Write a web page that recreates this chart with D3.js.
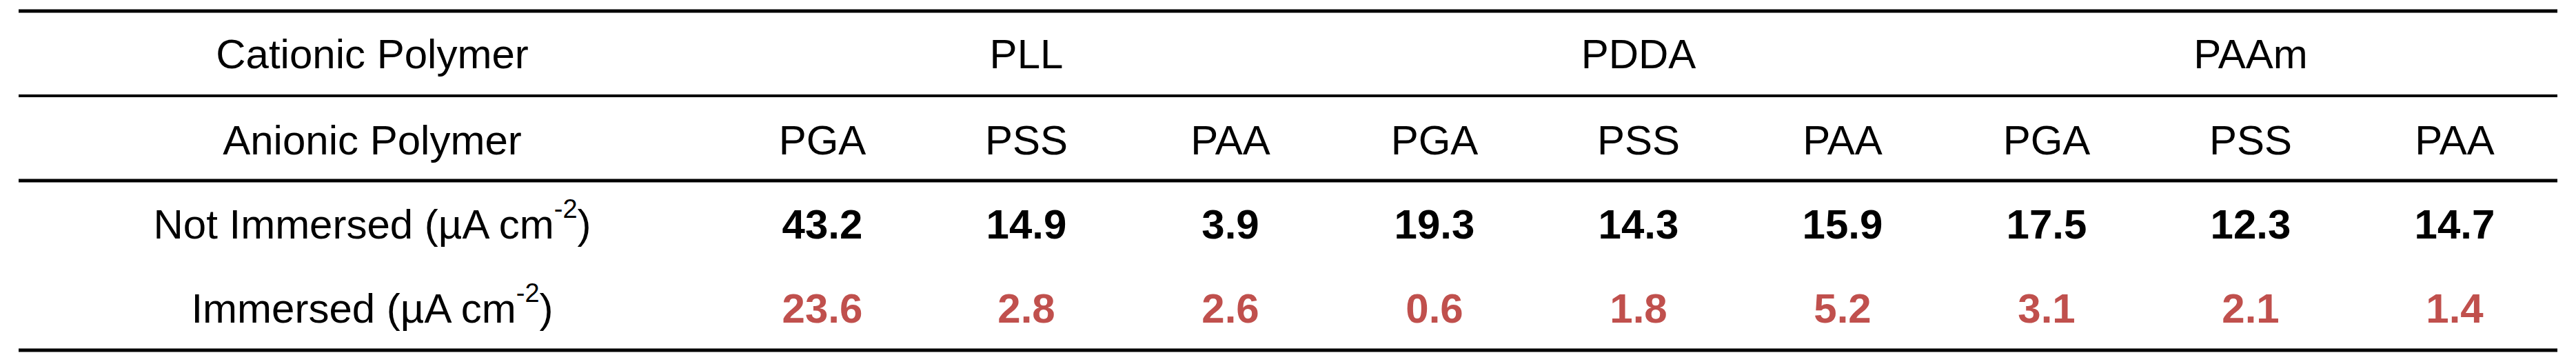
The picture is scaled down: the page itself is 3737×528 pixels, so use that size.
<!DOCTYPE html>
<head>
<meta charset="utf-8">
<script src="https://d3js.org/d3.v7.min.js"></script>
<style>
body { margin: 0; background: #fff; }
text { font-family: "Liberation Sans", Arial, sans-serif; }
</style>
</head>
<body>
<script>
var cationic = ["PLL", "PDDA", "PAAm"];
var anionic = ["PGA", "PSS", "PAA", "PGA", "PSS", "PAA", "PGA", "PSS", "PAA"];
var notImmersed = [43.2, 14.9, 3.9, 19.3, 14.3, 15.9, 17.5, 12.3, 14.7];
var immersed = [23.6, 2.8, 2.6, 0.6, 1.8, 5.2, 3.1, 2.1, 1.4];

var width = 3737, height = 528;
var svg = d3.select("body").append("svg")
    .attr("width", width)
    .attr("height", height);

var x = d3.scaleBand()
    .domain(d3.range(anionic.length))
    .range([1045, 3709]);

var fs = 60, labelX = 540;
var rowY = [78, 203, 325, 447];

// rules
[[16, 5], [139, 4], [262, 5], [508, 5]].forEach(function(l) {
    svg.append("line")
        .attr("x1", 27).attr("x2", 3710)
        .attr("y1", l[0]).attr("y2", l[0])
        .attr("stroke", "#000").attr("stroke-width", l[1]);
});

function label(y, main, sup) {
    var t = svg.append("text")
        .attr("x", labelX).attr("y", y)
        .attr("text-anchor", "middle")
        .attr("dominant-baseline", "central")
        .style("font-size", fs + "px");
    t.append("tspan").text(main);
    if (sup) {
        t.append("tspan").attr("dy", -22).style("font-size", "38px").text(sup);
        t.append("tspan").attr("dy", 22).text(")");
    }
}
label(rowY[0], "Cationic Polymer");
label(rowY[1], "Anionic Polymer");
label(rowY[2], "Not Immersed (\u00b5A cm", "-2");
label(rowY[3], "Immersed (\u00b5A cm", "-2");

svg.selectAll(".cat").data(cationic).enter().append("text")
    .attr("x", (d, i) => x(i * 3 + 1) + x.bandwidth() / 2)
    .attr("y", rowY[0])
    .attr("text-anchor", "middle").attr("dominant-baseline", "central")
    .style("font-size", fs + "px")
    .text(d => d);

svg.selectAll(".an").data(anionic).enter().append("text")
    .attr("x", (d, i) => x(i) + x.bandwidth() / 2)
    .attr("y", rowY[1])
    .attr("text-anchor", "middle").attr("dominant-baseline", "central")
    .style("font-size", fs + "px")
    .text(d => d);

svg.selectAll(".ni").data(notImmersed).enter().append("text")
    .attr("x", (d, i) => x(i) + x.bandwidth() / 2)
    .attr("y", rowY[2])
    .attr("text-anchor", "middle").attr("dominant-baseline", "central")
    .style("font-size", fs + "px").style("font-weight", "bold")
    .text(d => d.toFixed(1));

svg.selectAll(".im").data(immersed).enter().append("text")
    .attr("x", (d, i) => x(i) + x.bandwidth() / 2)
    .attr("y", rowY[3])
    .attr("text-anchor", "middle").attr("dominant-baseline", "central")
    .style("font-size", fs + "px").style("font-weight", "bold")
    .style("fill", "#c0504d")
    .text(d => d.toFixed(1));
</script>
</body>
</html>
